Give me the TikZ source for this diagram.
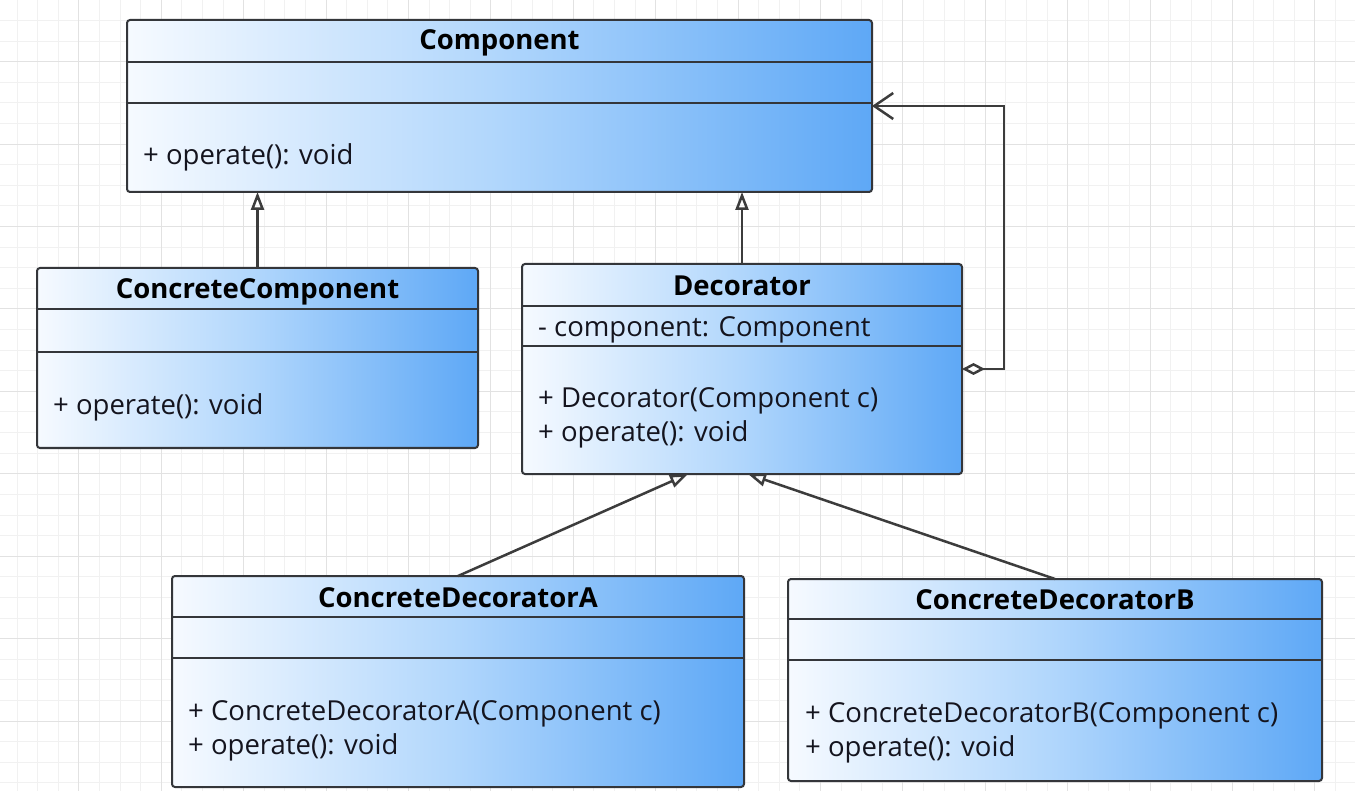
\documentclass[tikz,border=0pt]{standalone}
\usepackage{fontspec}
\setmainfont{Open Sans}
\usetikzlibrary{calc}
\usetikzlibrary{arrows.meta}

\definecolor{gridminor}{RGB}{241,241,241}
\definecolor{gridmajor}{RGB}{226,226,226}
\definecolor{boxline}{RGB}{52,54,58}
\definecolor{linkcol}{RGB}{60,60,60}
\definecolor{textcol}{RGB}{20,20,30}
\definecolor{boxleft}{RGB}{246,250,255}
\definecolor{boxmid}{RGB}{176,214,252}
\definecolor{boxright}{RGB}{94,168,246}
\pgfdeclarehorizontalshading{classshade}{100bp}{color(0bp)=(boxleft); color(25bp)=(boxleft); color(50bp)=(boxmid); color(75bp)=(boxright); color(100bp)=(boxright)}

\begin{document}
\begin{tikzpicture}[x=1pt,y=-1pt,
	classbox/.style={draw=boxline, line width=2pt, rounded corners=3pt, shading=classshade, inner sep=0pt, outer sep=0pt, anchor=north west},
	classname/.style={font=\fontsize{27.5}{32}\selectfont\bfseries, text=black, inner sep=0pt},
	member/.style={font=\fontsize{27.5}{34}\selectfont, text=textcol, inner sep=0pt, anchor=west, align=left},
	divider/.style={draw=boxline, line width=2pt},
	inherit/.style={draw=linkcol, line width=2.5pt, -{Triangle[open,length=18pt,width=13pt]}},
	aggregate/.style={draw=linkcol, line width=2.5pt, {Diamond[open,length=23pt,width=12pt]}-{Straight Barb[length=19pt,width=26pt]}}]

	\useasboundingbox (0,0) rectangle (1355,791);

	% background grid
	\begin{scope}
		\clip (0,0) rectangle (1355,791);
		\fill[white] (0,0) rectangle (1355,791);
		\foreach \i in {0,...,66} \draw[gridminor, line width=1pt] ({-3.5+20.6*\i},0) -- ++(0,791);
		\foreach \i in {0,...,38} \draw[gridminor, line width=1pt] (0,{20.6*\i}) -- ++(1355,0);
		\foreach \i in {0,...,17} \draw[gridmajor, line width=1pt] ({-3.5+82.4*\i},0) -- ++(0,791);
		\foreach \i in {0,...,10} \draw[gridmajor, line width=1pt] (0,{-20.6+82.4*\i}) -- ++(1355,0);
	\end{scope}

	% Component
	\node[classbox, minimum width=745pt, minimum height=172pt] (cmp) at (127,20) {};
	\draw[divider] ($(cmp.north west)+(0,42)$) -- ($(cmp.north east)+(0,42)$);
	\draw[divider] ($(cmp.north west)+(0,83)$) -- ($(cmp.north east)+(0,83)$);
	\node[classname] (cmp-name) at ($(cmp.north)+(0,23)$) {Component};
	\node[member] (cmp-ops) at ($(cmp.north west)+(16,137)$) {+ operate(): void};

	% ConcreteComponent
	\node[classbox, minimum width=441pt, minimum height=180pt] (cc) at (37,268) {};
	\draw[divider] ($(cc.north west)+(0,41)$) -- ($(cc.north east)+(0,41)$);
	\draw[divider] ($(cc.north west)+(0,84)$) -- ($(cc.north east)+(0,84)$);
	\node[classname] (cc-name) at ($(cc.north)+(0,24)$) {ConcreteComponent};
	\node[member] (cc-ops) at ($(cc.north west)+(16,139)$) {+ operate(): void};

	% Decorator
	\node[classbox, minimum width=440pt, minimum height=210pt] (dec) at (522,264) {};
	\draw[divider] ($(dec.north west)+(0,42)$) -- ($(dec.north east)+(0,42)$);
	\draw[divider] ($(dec.north west)+(0,82)$) -- ($(dec.north east)+(0,82)$);
	\node[classname] (dec-name) at ($(dec.north)+(0,22)$) {Decorator};
	\node[member] (dec-attr) at ($(dec.north west)+(16,66)$) {- component: Component};
	\node[member] (dec-ops) at ($(dec.north west)+(16,154)$) {+ Decorator(Component c)\\+ operate(): void};

	% ConcreteDecoratorA
	\node[classbox, minimum width=572pt, minimum height=211pt] (cda) at (172,576) {};
	\draw[divider] ($(cda.north west)+(0,41)$) -- ($(cda.north east)+(0,41)$);
	\draw[divider] ($(cda.north west)+(0,82)$) -- ($(cda.north east)+(0,82)$);
	\node[classname] (cda-name) at ($(cda.north)+(0,22)$) {ConcreteDecoratorA};
	\node[member] (cda-ops) at ($(cda.north west)+(16,155)$) {+ ConcreteDecoratorA(Component c)\\+ operate(): void};

	% ConcreteDecoratorB
	\node[classbox, minimum width=534pt, minimum height=202pt] (cdb) at (788,579) {};
	\draw[divider] ($(cdb.north west)+(0,40)$) -- ($(cdb.north east)+(0,40)$);
	\draw[divider] ($(cdb.north west)+(0,81)$) -- ($(cdb.north east)+(0,81)$);
	\node[classname] (cdb-name) at ($(cdb.north)+(0,21)$) {ConcreteDecoratorB};
	\node[member] (cdb-ops) at ($(cdb.north west)+(17,154)$) {+ ConcreteDecoratorB(Component c)\\+ operate(): void};

	% generalisations
	\draw[inherit] (cc.north) -- (cc.north |- cmp.south);
	\draw[inherit] (dec.north) -- (dec.north |- cmp.south);
	\draw[inherit] (cda.north) -- ($(dec.south)+(-54,0)$);
	\draw[inherit] (cdb.north) -- ($(dec.south)+(6,0)$);

	% aggregation
	\draw[aggregate] (dec.east) -- ++(42,0) |- (cmp.east);

\end{tikzpicture}
\end{document}
